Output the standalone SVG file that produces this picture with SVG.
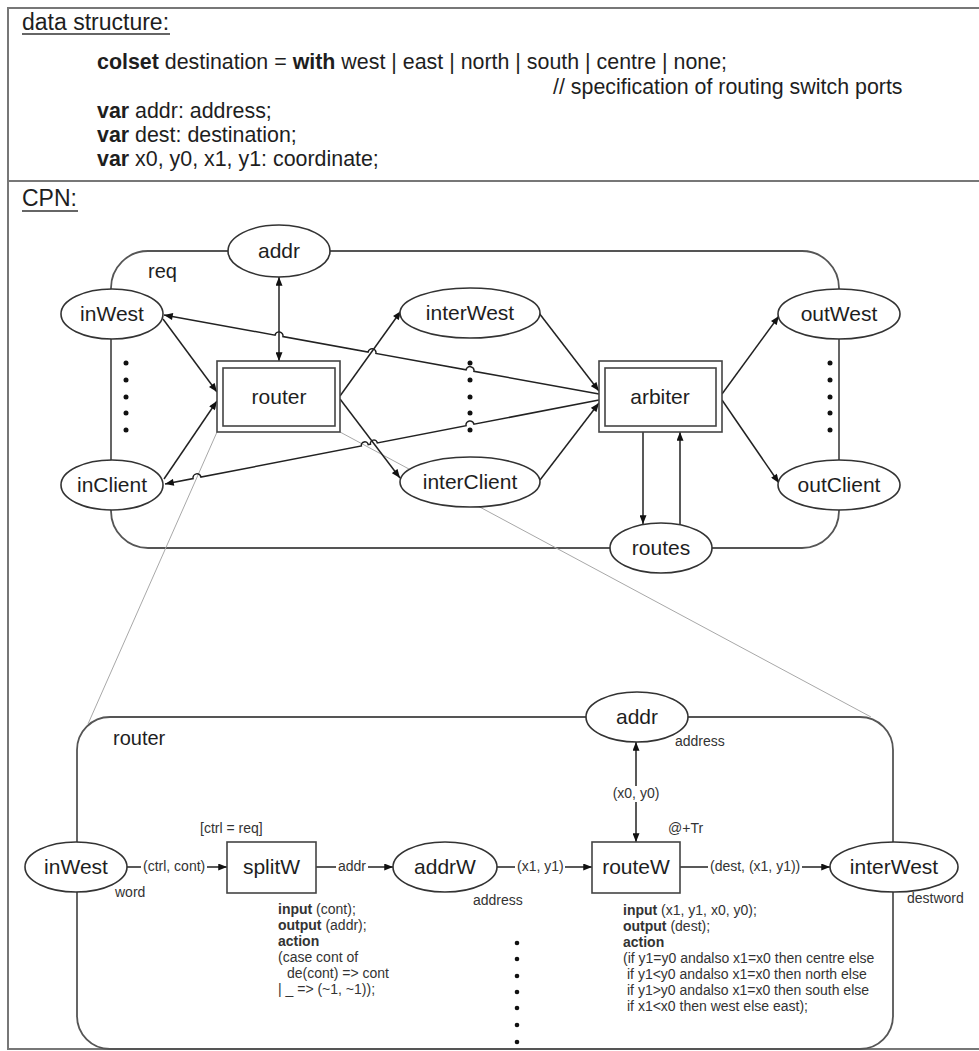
<svg xmlns="http://www.w3.org/2000/svg" width="979" height="1051" viewBox="0 0 979 1051">
<style>
.frame{fill:none;stroke:#777;stroke-width:2}
.page{fill:none;stroke:#555;stroke-width:1.8}
.place{fill:#fff;stroke:#333;stroke-width:1.6}
.trans{fill:#fff;stroke:#444;stroke-width:1.6}
.arc{fill:none;stroke:#222;stroke-width:1.5}
.zl{fill:none;stroke:#a8a8a8;stroke-width:1}
.t{font-family:"Liberation Sans",Arial,Helvetica,sans-serif;fill:#1e1e1e}
.h{font-size:21.4px}
.ttl{font-size:23px}
.big{font-size:21px;text-anchor:middle}
.sm{font-size:14px;fill:#333}
.c{text-anchor:middle}
.b{font-weight:bold}
.dot{fill:#111}
</style>
<defs>
<marker id="ah" viewBox="0 0 10 8" refX="10" refY="4" markerWidth="10" markerHeight="7" markerUnits="userSpaceOnUse" orient="auto-start-reverse">
<path d="M0,0 L10,4 L0,8 z" fill="#111"/>
</marker>
</defs>
<rect width="979" height="1051" fill="#fff"/>

<g id="frame">
<rect class="frame" x="8" y="8" width="1000" height="1041"/>
<line class="frame" x1="8" y1="181" x2="979" y2="181"/>
</g>

<g id="header">
<text class="t ttl" x="22" y="30">data structure:</text>
<line x1="22" y1="34" x2="170" y2="34" stroke="#333" stroke-width="1.3"/>
<text class="t h" x="97" y="69"><tspan class="b">colset</tspan> destination = <tspan class="b">with</tspan> west | east | north | south | centre | none;</text>
<text class="t h" x="553" y="94">// specification of routing switch ports</text>
<text class="t h" x="97" y="118"><tspan class="b">var</tspan> addr: address;</text>
<text class="t h" x="97" y="142"><tspan class="b">var</tspan> dest: destination;</text>
<text class="t h" x="97" y="166"><tspan class="b">var</tspan> x0, y0, x1, y1: coordinate;</text>
<text class="t ttl" x="22" y="206">CPN:</text>
<line x1="22" y1="211" x2="78" y2="211" stroke="#333" stroke-width="1.3"/>
</g>

<g id="req-page">
<rect class="page" x="111" y="251" width="728" height="297" rx="37" ry="37"/>
<text class="t" x="148" y="278" font-size="20">req</text>
</g>

<g id="router-page">
<rect class="page" x="77" y="717" width="816" height="332" rx="33" ry="33"/>
<text class="t" x="113" y="745" font-size="20">router</text>
</g>

<g id="zoom-lines">
<line class="zl" x1="217" y1="432" x2="88" y2="724"/>
<line class="zl" x1="340" y1="432" x2="871" y2="717"/>
</g>

<g id="connectors">
<line class="arc" x1="279" y1="277" x2="279" y2="361" marker-start="url(#ah)" marker-end="url(#ah)"/>
<line class="arc" x1="163" y1="319" x2="217" y2="392" marker-end="url(#ah)"/>
<line class="arc" x1="164" y1="479" x2="217" y2="401" marker-end="url(#ah)"/>
<path class="arc" d="M164,315 L275.06,335.19 A4,4 0 0 1 282.94,336.61 L368.06,352.07 A4,4 0 0 1 375.94,353.49 L466.06,369.86 A4,4 0 0 1 473.94,371.28 L599,394" marker-start="url(#ah)"/>
<path class="arc" d="M165,484 L193.07,478.57 A4,4 0 0 1 200.93,477.05 L361.36,446.0 A3.5,3.5 0 0 1 368.24,444.67 L370.46,444.24 A3.5,3.5 0 0 1 377.34,442.91 L466.07,425.73 A4,4 0 0 1 473.93,424.21 L599,400" marker-start="url(#ah)"/>
<line class="arc" x1="340" y1="396" x2="401" y2="311" marker-end="url(#ah)"/>
<line class="arc" x1="340" y1="399" x2="400" y2="478" marker-end="url(#ah)"/>
<line class="arc" x1="539" y1="313" x2="599" y2="391" marker-end="url(#ah)"/>
<line class="arc" x1="540" y1="480" x2="599" y2="403" marker-end="url(#ah)"/>
<line class="arc" x1="722" y1="394" x2="779" y2="316" marker-end="url(#ah)"/>
<line class="arc" x1="722" y1="400" x2="779" y2="483" marker-end="url(#ah)"/>
<line class="arc" x1="643" y1="432" x2="643" y2="524" marker-end="url(#ah)"/>
<line class="arc" x1="680" y1="525" x2="680" y2="432" marker-end="url(#ah)"/>

<line class="arc" x1="127" y1="867" x2="141" y2="867"/>
<line class="arc" x1="207" y1="867" x2="227" y2="867" marker-end="url(#ah)"/>
<line class="arc" x1="316" y1="867" x2="336" y2="867"/>
<line class="arc" x1="368" y1="867" x2="393" y2="867" marker-end="url(#ah)"/>
<line class="arc" x1="497" y1="867" x2="515" y2="867"/>
<line class="arc" x1="565" y1="867" x2="592" y2="867" marker-end="url(#ah)"/>
<line class="arc" x1="680" y1="867" x2="708" y2="867"/>
<line class="arc" x1="802" y1="867" x2="830" y2="867" marker-end="url(#ah)"/>
<line class="arc" x1="636" y1="786" x2="636" y2="742" marker-end="url(#ah)"/>
<line class="arc" x1="636" y1="802" x2="636" y2="842" marker-end="url(#ah)"/>

<text class="t sm" x="143" y="871">(ctrl, cont)</text>
<text class="t sm" x="338" y="871">addr</text>
<text class="t sm" x="517" y="871">(x1, y1)</text>
<text class="t sm" x="710" y="871">(dest, (x1, y1))</text>
<text class="t sm c" x="636" y="798">(x0, y0)</text>
</g>

<g id="dots">
<circle class="dot" cx="126" cy="363" r="2.5"/><circle class="dot" cx="126" cy="380" r="2.5"/><circle class="dot" cx="126" cy="397" r="2.5"/><circle class="dot" cx="126" cy="413" r="2.5"/><circle class="dot" cx="126" cy="430" r="2.5"/>
<circle class="dot" cx="470" cy="363" r="2.5"/><circle class="dot" cx="470" cy="380" r="2.5"/><circle class="dot" cx="470" cy="397" r="2.5"/><circle class="dot" cx="470" cy="413" r="2.5"/><circle class="dot" cx="470" cy="430" r="2.5"/>
<circle class="dot" cx="830" cy="363" r="2.5"/><circle class="dot" cx="830" cy="380" r="2.5"/><circle class="dot" cx="830" cy="397" r="2.5"/><circle class="dot" cx="830" cy="413" r="2.5"/><circle class="dot" cx="830" cy="430" r="2.5"/>
<circle class="dot" cx="517" cy="943" r="2.3"/><circle class="dot" cx="517" cy="959" r="2.3"/><circle class="dot" cx="517" cy="976" r="2.3"/><circle class="dot" cx="517" cy="992" r="2.3"/><circle class="dot" cx="517" cy="1008" r="2.3"/><circle class="dot" cx="517" cy="1025" r="2.3"/><circle class="dot" cx="517" cy="1042" r="2.3"/>
</g>

<g id="addr-top"><ellipse class="place" cx="279" cy="251" rx="51" ry="26"/><text class="t big" x="279" y="258">addr</text></g>
<g id="inWest-top"><ellipse class="place" cx="112" cy="314" rx="51" ry="25"/><text class="t big" x="112" y="321">inWest</text></g>
<g id="inClient-top"><ellipse class="place" cx="112" cy="485" rx="51" ry="25"/><text class="t big" x="112" y="492">inClient</text></g>
<g id="interWest-top"><ellipse class="place" cx="470" cy="313" rx="70" ry="25"/><text class="t big" x="470" y="320">interWest</text></g>
<g id="interClient-top"><ellipse class="place" cx="470" cy="482" rx="70" ry="25"/><text class="t big" x="470" y="489">interClient</text></g>
<g id="outWest"><ellipse class="place" cx="839" cy="314" rx="61" ry="25"/><text class="t big" x="839" y="321">outWest</text></g>
<g id="outClient"><ellipse class="place" cx="839" cy="485" rx="61" ry="25"/><text class="t big" x="839" y="492">outClient</text></g>
<g id="routes"><ellipse class="place" cx="661" cy="548" rx="51" ry="25"/><text class="t big" x="661" y="555">routes</text></g>
<g id="router-trans"><rect class="trans" x="217" y="361" width="123" height="71"/><rect class="trans" x="223" y="368" width="112" height="58"/><text class="t big" x="279" y="404">router</text></g>
<g id="arbiter"><rect class="trans" x="599" y="361" width="123" height="71"/><rect class="trans" x="605" y="368" width="111" height="58"/><text class="t big" x="660" y="404">arbiter</text></g>

<g id="inWest-sub"><ellipse class="place" cx="76" cy="867" rx="51" ry="25"/><text class="t big" x="76" y="874">inWest</text><text class="t sm" x="115" y="897" font-size="13">word</text></g>
<g id="splitW"><rect class="trans" x="227" y="842" width="89" height="51"/><text class="t big" x="271.5" y="874">splitW</text><text class="t sm" x="200" y="833">[ctrl = req]</text></g>
<g id="addrW"><ellipse class="place" cx="445" cy="867" rx="52" ry="25"/><text class="t big" x="445" y="874">addrW</text><text class="t sm" x="473" y="905" font-size="13">address</text></g>
<g id="routeW"><rect class="trans" x="592" y="842" width="88" height="51"/><text class="t big" x="636" y="874">routeW</text><text class="t sm" x="668" y="833">@+Tr</text></g>
<g id="interWest-sub"><ellipse class="place" cx="894" cy="867" rx="64" ry="25"/><text class="t big" x="894" y="874">interWest</text><text class="t sm" x="907" y="903" font-size="13">destword</text></g>
<g id="addr-sub"><ellipse class="place" cx="637" cy="717" rx="51" ry="25"/><text class="t big" x="637" y="724">addr</text><text class="t sm" x="675" y="746" font-size="13">address</text></g>

<g id="splitW-code" class="t sm">
<text x="278" y="914"><tspan class="b">input</tspan> (cont);</text>
<text x="278" y="930"><tspan class="b">output</tspan> (addr);</text>
<text x="278" y="946" class="b">action</text>
<text x="278" y="962">(case cont of</text>
<text x="287" y="978">de(cont) =&gt; cont</text>
<text x="278" y="994">| _ =&gt; (~1, ~1));</text>
</g>
<g id="routeW-code" class="t sm">
<text x="623" y="915"><tspan class="b">input</tspan> (x1, y1, x0, y0);</text>
<text x="623" y="931"><tspan class="b">output</tspan> (dest);</text>
<text x="623" y="947" class="b">action</text>
<text x="623" y="963">(if y1=y0 andalso x1=x0 then centre else</text>
<text x="627" y="979">if y1&lt;y0 andalso x1=x0 then north else</text>
<text x="627" y="995">if y1&gt;y0 andalso x1=x0 then south else</text>
<text x="627" y="1011">if x1&lt;x0 then west else east);</text>
</g>
</svg>
